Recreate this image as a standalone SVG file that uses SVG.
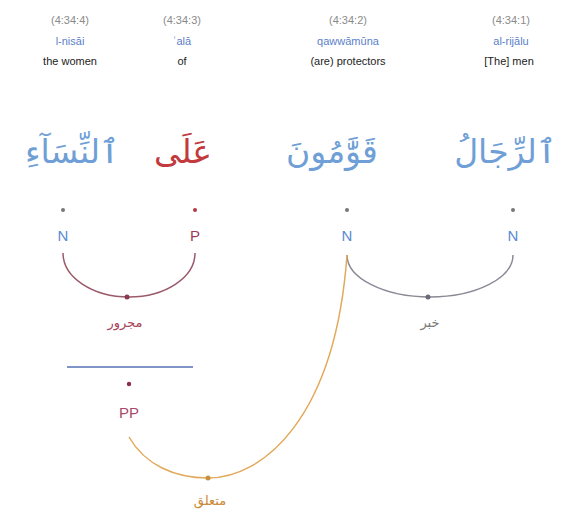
<svg xmlns="http://www.w3.org/2000/svg" width="563" height="512" viewBox="0 0 563 512">
<style>
.loc{font-family:"Liberation Sans",Arial,sans-serif;font-size:11px;fill:#8a8a8a;text-anchor:middle}
.tr{font-family:"Liberation Sans",Arial,sans-serif;font-size:11px;fill:#5b7fc9;text-anchor:middle}
.en{font-family:"Liberation Sans",Arial,sans-serif;font-size:11px;fill:#222;text-anchor:middle}
.ar{font-family:"DejaVu Sans","Noto Sans",sans-serif;font-size:33px;text-anchor:middle}
.tag{font-family:"Liberation Sans",Arial,sans-serif;font-size:15px;text-anchor:middle}
.lbl{font-family:"DejaVu Sans",sans-serif;font-size:13px;text-anchor:middle}
.blue{fill:#6f9fd6}
.red{fill:#c23a3e}
</style>
<rect width="563" height="512" fill="#fff"/>
<g id="w4">
<text class="loc" x="70" y="24">(4:34:4)</text>
<text class="tr" x="70" y="45">l-nisāi</text>
<text class="en" x="70" y="65">the women</text>
<text class="ar blue" x="72" y="163">ٱلنِّسَآءِ</text>
<circle cx="63" cy="210" r="2" fill="#777"/>
<text class="tag" x="63" y="241" fill="#5b8ad0">N</text>
</g>
<g id="w3">
<text class="loc" x="182" y="24">(4:34:3)</text>
<text class="tr" x="182" y="45">ʿalā</text>
<text class="en" x="182" y="65">of</text>
<text class="ar red" x="183" y="163">عَلَى</text>
<circle cx="195" cy="210" r="2" fill="#b03a48"/>
<text class="tag" x="195" y="241" fill="#a03a55">P</text>
</g>
<g id="w2">
<text class="loc" x="348" y="24">(4:34:2)</text>
<text class="tr" x="348" y="45">qawwāmūna</text>
<text class="en" x="348" y="65">(are) protectors</text>
<text class="ar blue" x="332" y="163">قَوَّٰمُونَ</text>
<circle cx="347" cy="210" r="2" fill="#777"/>
<text class="tag" x="347" y="241" fill="#5b8ad0">N</text>
</g>
<g id="w1">
<text class="loc" x="511" y="24">(4:34:1)</text>
<text class="tr" x="511" y="45">al-rijālu</text>
<text class="en" x="509" y="65">[The] men</text>
<text class="ar blue" x="505" y="163">ٱلرِّجَالُ</text>
<circle cx="513" cy="210" r="2" fill="#777"/>
<text class="tag" x="513" y="241" fill="#5b8ad0">N</text>
</g>
<g id="pp">
<line x1="67" y1="367" x2="193" y2="367" stroke="#7f93c6" stroke-width="2"/>
<circle cx="129" cy="384" r="2.2" fill="#8c2e45"/>
<text class="tag" x="129" y="418" fill="#a8486a">PP</text>
</g>
<g id="connectors" fill="none" stroke-width="1.5">
<path d="M63,253 A66,44 0 0 0 195,253" stroke="#9b5a6a"/>
<circle cx="127" cy="297" r="2.5" fill="#8c3a50" stroke="none"/>
<text class="lbl" x="125" y="327" fill="#a8445a" stroke="none">مجرور</text>
<path d="M347,255 A83,42 0 0 0 513,255" stroke="#8a8a96"/>
<circle cx="428" cy="297" r="2.5" fill="#6a6a78" stroke="none"/>
<text class="lbl" x="430" y="327" fill="#777" stroke="none">خبر</text>
<path d="M129,437 C145,465 175,478 208,478 C262,478 335,420 347,255" stroke="#e2a95a"/>
<circle cx="208" cy="478" r="2.5" fill="#c8903f" stroke="none"/>
<text class="lbl" x="210" y="505" fill="#c98a3a" stroke="none">متعلق</text>
</g>
</svg>
